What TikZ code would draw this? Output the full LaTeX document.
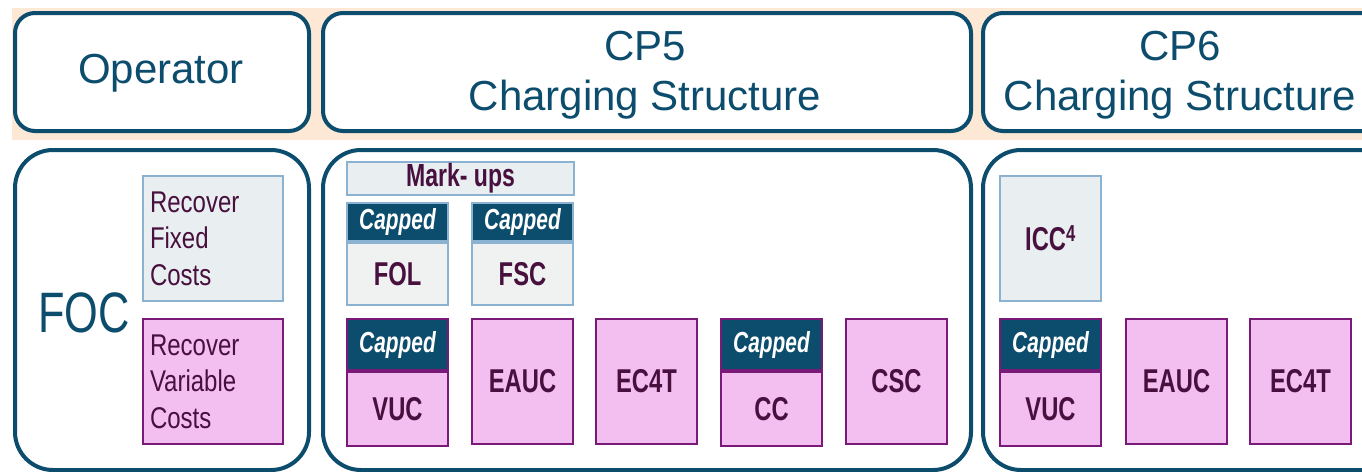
\documentclass[tikz,border=0pt]{standalone}
\usepackage{fontspec}
\setmainfont{Liberation Sans}
\newfontfamily\narrowf[FakeStretch=0.8]{Liberation Sans}
\newfontfamily\condf[FakeStretch=0.72]{Liberation Sans}
\newfontfamily\focf[FakeStretch=0.76]{Liberation Sans}
\definecolor{navy}{RGB}{12,76,108}
\definecolor{peach}{RGB}{252,232,212}
\definecolor{plum}{RGB}{72,16,62}
\definecolor{pinkf}{RGB}{243,190,240}
\definecolor{purp}{RGB}{122,26,120}
\definecolor{greyf}{RGB}{233,238,241}
\definecolor{greyb}{RGB}{240,242,242}
\definecolor{lblue}{RGB}{140,178,210}
\tikzset{
  title/.style={draw=navy, line width=4pt, rounded corners=20pt, fill=white, anchor=north west, inner sep=0pt},
  ttext/.style={text=navy, align=center, inner sep=0pt, font=\fontsize{42}{50}\selectfont},
  cont/.style={draw=navy, line width=4pt, rounded corners=38pt, fill=white, anchor=north west, inner sep=0pt},
  lbox/.style={draw=lblue, line width=2pt, fill=greyf, anchor=north west, inner sep=0pt,
    text=plum, font=\condf\bfseries\fontsize{33}{36}\selectfont},
  pbox/.style={draw=purp, line width=2pt, fill=pinkf, anchor=north west, inner sep=0pt,
    minimum width=101pt, minimum height=125pt,
    text=plum, font=\condf\bfseries\fontsize{33}{36}\selectfont},
  hdr/.style={fill=navy, line width=2pt, anchor=north west, inner sep=0pt, minimum width=101pt,
    text=white, font=\condf\bfseries\itshape\fontsize{29}{32}\selectfont},
  cbody/.style={line width=2pt, anchor=north west, inner sep=0pt, minimum width=101pt,
    text=plum, font=\condf\bfseries\fontsize{33}{36}\selectfont},
  cost/.style={line width=2pt, anchor=north west, inner xsep=7pt, inner ysep=0pt,
    text width=126pt, minimum height=125pt, align=left, text=plum,
    font=\narrowf\fontsize{30}{36.5}\selectfont}
}
\begin{document}
\begin{tikzpicture}[x=1pt,y=-1pt]
\useasboundingbox (0,0) rectangle (1362,471);
\clip (0,0) rectangle (1362,471);
\fill[peach] (12,8) rectangle (1362,140);
% title row
\node[title, minimum width=294pt, minimum height=118pt] (op) at (13,11) {};
\node[ttext] (opt) at (161,73) {Operator};
\node[title, minimum width=648pt, minimum height=118pt] (cp5) at (321,11) {};
\node[ttext] (cp5t) at (645,75) {CP5\\Charging Structure};
\node[title, minimum width=420pt, minimum height=118pt] (cp6) at (981,11) {};
\node[ttext] (cp6t) at (1180,75) {CP6\\Charging Structure};
% containers
\node[cont, minimum width=294pt, minimum height=320pt] (focc) at (13,148) {};
\node[cont, minimum width=648pt, minimum height=320pt] (cp5c) at (321,148) {};
\node[cont, minimum width=420pt, minimum height=320pt] (cp6c) at (981,148) {};
% FOC
\node[text=navy, font=\focf\fontsize{57}{60}\selectfont] (foc) at (84,313) {FOC};
\node[cost, draw=lblue, fill=greyf] (fixed) at (142,175) {Recover\\Fixed\\Costs};
\node[cost, draw=purp, fill=pinkf] (var) at (142,318) {Recover\\Variable\\Costs};
% CP5 mark-ups
\node[lbox, minimum width=227pt, minimum height=33pt, font=\condf\bfseries\fontsize{32}{34}\selectfont] (mark) at (346,161) {Mark- ups};
\node[hdr, draw=lblue, minimum height=38pt] (folh) at (346,202) {Capped};
\node[cbody, draw=lblue, fill=greyb, minimum height=62pt] (fol) at (folh.south west) {FOL};
\node[hdr, draw=lblue, minimum height=38pt] (fsch) at (471,202) {Capped};
\node[cbody, draw=lblue, fill=greyb, minimum height=62pt] (fsc) at (fsch.south west) {FSC};
% CP5 bottom row
\node[hdr, draw=purp, minimum height=51pt] (vuch) at (346,318) {Capped};
\node[cbody, draw=purp, fill=pinkf, minimum height=74pt] (vuc) at (vuch.south west) {VUC};
\node[pbox] (eauc) at (471,318) {EAUC};
\node[pbox] (ec4t) at (595,318) {EC4T};
\node[hdr, draw=purp, minimum height=51pt] (cch) at (720,318) {Capped};
\node[cbody, draw=purp, fill=pinkf, minimum height=74pt] (cc) at (cch.south west) {CC};
\node[pbox] (csc) at (845,318) {CSC};
% CP6
\node[lbox, minimum width=101pt, minimum height=125pt] (icc) at (999,175) {ICC\textsuperscript{4}};
\node[hdr, draw=purp, minimum height=51pt] (vuc6h) at (999,318) {Capped};
\node[cbody, draw=purp, fill=pinkf, minimum height=74pt] (vuc6) at (vuc6h.south west) {VUC};
\node[pbox] (eauc6) at (1125,318) {EAUC};
\node[pbox] (ec4t6) at (1249,318) {EC4T};
\end{tikzpicture}
\end{document}
